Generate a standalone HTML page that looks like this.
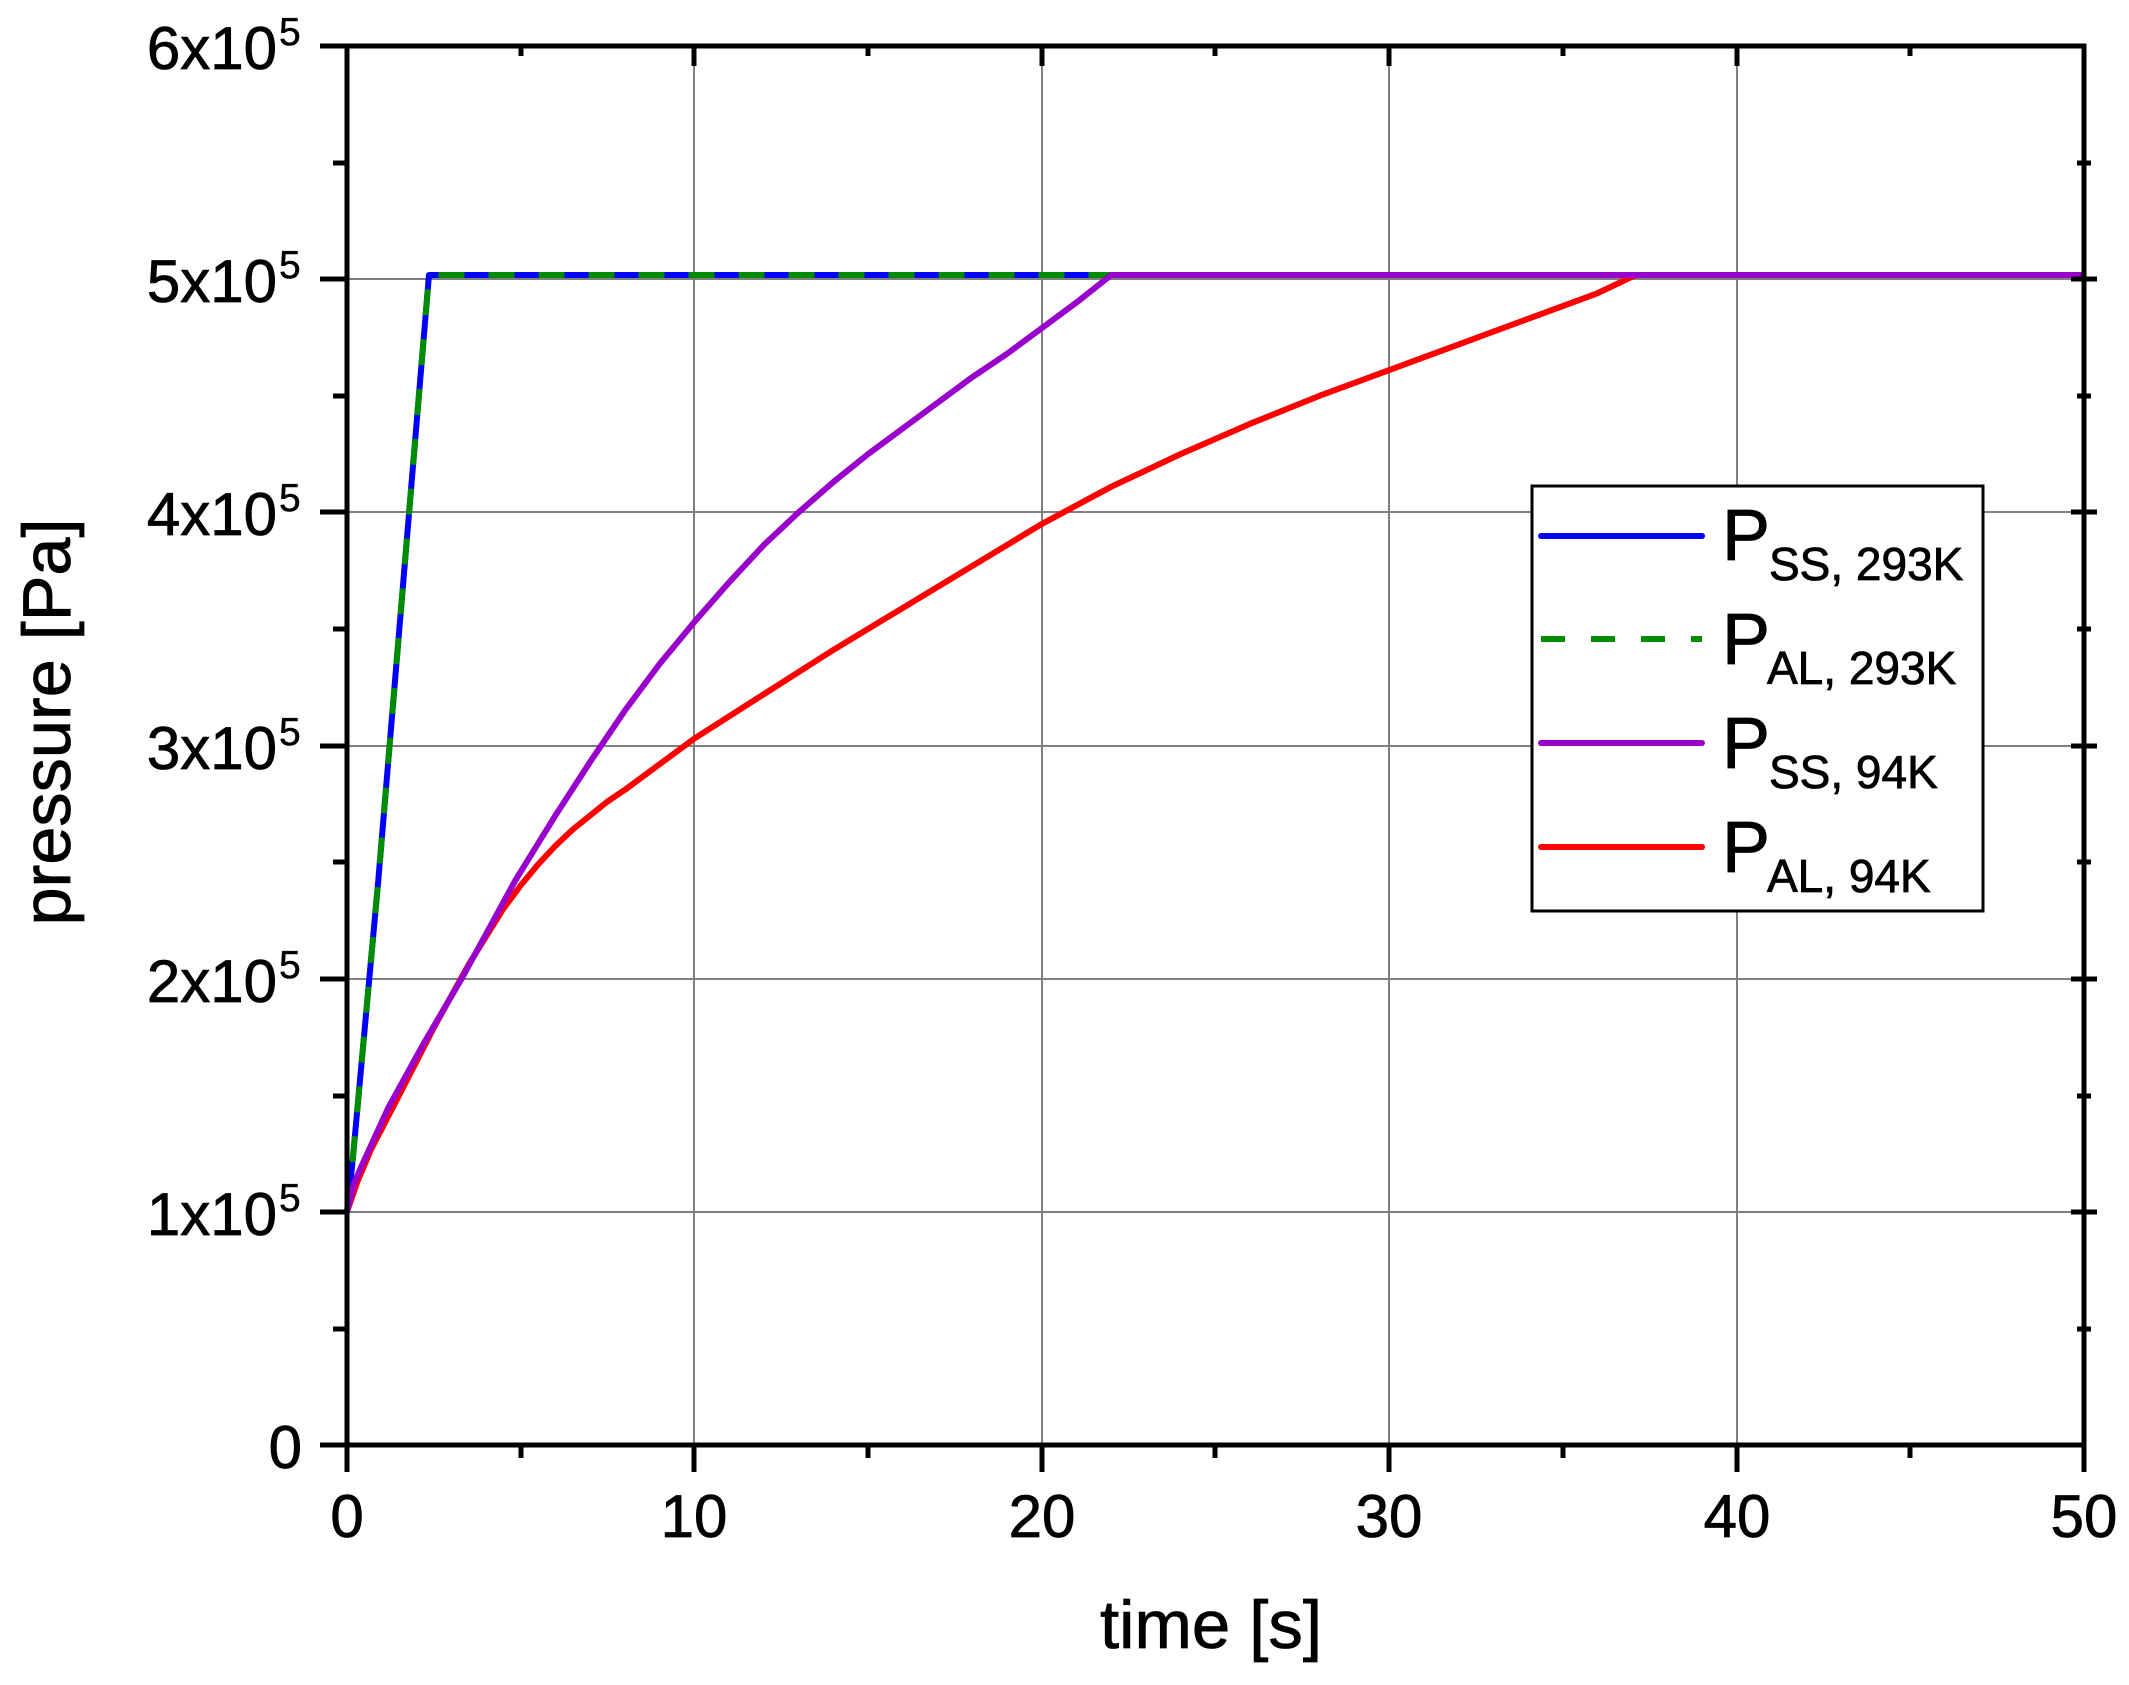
<!DOCTYPE html>
<html><head><meta charset="utf-8"><style>
html,body{margin:0;padding:0;background:#fff;}
svg{display:block;font-family:"Liberation Sans",Arial,sans-serif;}
</style></head><body>
<svg width="2129" height="1685" viewBox="0 0 2129 1685" xmlns="http://www.w3.org/2000/svg">
<rect width="2129" height="1685" fill="#fff"/>
<!-- grid -->
<g stroke="#808080" stroke-width="2">
<line x1="694" y1="46" x2="694" y2="1445"/>
<line x1="1042" y1="46" x2="1042" y2="1445"/>
<line x1="1389" y1="46" x2="1389" y2="1445"/>
<line x1="1737" y1="46" x2="1737" y2="1445"/>
<line x1="347" y1="1212" x2="2084" y2="1212"/>
<line x1="347" y1="979" x2="2084" y2="979"/>
<line x1="347" y1="746" x2="2084" y2="746"/>
<line x1="347" y1="512" x2="2084" y2="512"/>
<line x1="347" y1="279" x2="2084" y2="279"/>
</g>
<!-- series -->
<g transform="translate(347,1445) scale(34.74,-233.17)" fill="none" stroke-linejoin="round" stroke-linecap="butt">
<polyline vector-effect="non-scaling-stroke" stroke="#ff0000" stroke-width="6" points="0,1 0.3,1.13 0.7,1.27 1.5,1.5 2.5,1.79 3.5,2.06 4.5,2.3 5,2.4 5.5,2.49 6,2.57 6.5,2.64 7,2.70 7.5,2.76 8,2.81 9,2.92 10,3.03 12,3.22 14,3.41 16,3.59 18,3.77 20,3.95 22,4.11 24,4.25 26,4.38 28,4.50 30,4.61 32,4.72 34,4.83 36,4.94 37.1,5.018 50,5.018"/>
<polyline vector-effect="non-scaling-stroke" stroke="#0000ff" stroke-width="6" points="0,1 0.15,1.2 0.9,2.42 2.36,5.018 50,5.018"/>
<polyline vector-effect="non-scaling-stroke" stroke="#008c00" stroke-width="6" stroke-dasharray="26,24" points="0,1 0.15,1.2 0.9,2.42 2.36,5.018 22,5.018"/>
<polyline vector-effect="non-scaling-stroke" stroke="#9900cc" stroke-width="6" points="0,1 0.2,1.12 0.43,1.2 1.2,1.45 2.2,1.72 3.3,2.0 4.84,2.42 6,2.7 7,2.93 8,3.15 9,3.35 10,3.53 11,3.70 12,3.86 13,4.0 14,4.13 15,4.25 16,4.36 17,4.47 18,4.58 19,4.68 20,4.79 21,4.90 22,5.018 50,5.018"/>
</g>
<!-- axes -->
<rect x="347" y="46" width="1737" height="1399" stroke="#000" stroke-width="5" fill="none"/>
<g stroke="#000" stroke-width="5">
<line x1="320" y1="1445" x2="347" y2="1445"/><line x1="320" y1="1212" x2="347" y2="1212"/><line x1="320" y1="979" x2="347" y2="979"/><line x1="320" y1="746" x2="347" y2="746"/><line x1="320" y1="512" x2="347" y2="512"/><line x1="320" y1="279" x2="347" y2="279"/><line x1="320" y1="46" x2="347" y2="46"/>
<line x1="333" y1="1329" x2="347" y2="1329"/><line x1="333" y1="1096" x2="347" y2="1096"/><line x1="333" y1="862" x2="347" y2="862"/><line x1="333" y1="629" x2="347" y2="629"/><line x1="333" y1="396" x2="347" y2="396"/><line x1="333" y1="163" x2="347" y2="163"/>
<line x1="2071" y1="1212" x2="2097" y2="1212"/><line x1="2071" y1="979" x2="2097" y2="979"/><line x1="2071" y1="746" x2="2097" y2="746"/><line x1="2071" y1="512" x2="2097" y2="512"/><line x1="2071" y1="279" x2="2097" y2="279"/>
<line x1="2077" y1="1329" x2="2091" y2="1329"/><line x1="2077" y1="1096" x2="2091" y2="1096"/><line x1="2077" y1="862" x2="2091" y2="862"/><line x1="2077" y1="629" x2="2091" y2="629"/><line x1="2077" y1="396" x2="2091" y2="396"/><line x1="2077" y1="163" x2="2091" y2="163"/>
<line x1="347" y1="1445" x2="347" y2="1472"/><line x1="694" y1="1445" x2="694" y2="1472"/><line x1="1042" y1="1445" x2="1042" y2="1472"/><line x1="1389" y1="1445" x2="1389" y2="1472"/><line x1="1737" y1="1445" x2="1737" y2="1472"/><line x1="2084" y1="1445" x2="2084" y2="1472"/>
<line x1="521" y1="1445" x2="521" y2="1458"/><line x1="868" y1="1445" x2="868" y2="1458"/><line x1="1215" y1="1445" x2="1215" y2="1458"/><line x1="1563" y1="1445" x2="1563" y2="1458"/><line x1="1910" y1="1445" x2="1910" y2="1458"/>
<line x1="521" y1="46" x2="521" y2="56"/><line x1="868" y1="46" x2="868" y2="56"/><line x1="1215" y1="46" x2="1215" y2="56"/><line x1="1563" y1="46" x2="1563" y2="56"/><line x1="1910" y1="46" x2="1910" y2="56"/>
<line x1="694" y1="46" x2="694" y2="66"/><line x1="1042" y1="46" x2="1042" y2="66"/><line x1="1389" y1="46" x2="1389" y2="66"/><line x1="1737" y1="46" x2="1737" y2="66"/>
</g>
<!-- tick labels -->
<g font-size="60" fill="#000" text-anchor="middle" stroke="#000" stroke-width="0.8">
<text x="347" y="1537">0</text><text x="694" y="1537">10</text><text x="1042" y="1537">20</text><text x="1389" y="1537">30</text><text x="1737" y="1537">40</text><text x="2084" y="1537">50</text>
</g>
<g font-size="60" fill="#000" text-anchor="end" stroke="#000" stroke-width="0.8">
<text x="302" y="1468">0</text>
<text x="277" y="1235">1x10</text><text x="277" y="1002">2x10</text><text x="277" y="769">3x10</text><text x="277" y="535">4x10</text><text x="277" y="302">5x10</text><text x="277" y="69">6x10</text>
</g>
<g font-size="39" fill="#000" stroke="#000" stroke-width="0.5">
<text x="279" y="1211">5</text><text x="279" y="978">5</text><text x="279" y="745">5</text><text x="279" y="511">5</text><text x="279" y="278">5</text><text x="279" y="45">5</text>
</g>
<!-- axis titles -->
<g stroke="#000" stroke-width="0.8">
<text x="1211" y="1648" font-size="68" text-anchor="middle" textLength="222" lengthAdjust="spacingAndGlyphs">time [s]</text>
<text transform="translate(70,722) rotate(-90)" font-size="68" text-anchor="middle" textLength="407" lengthAdjust="spacingAndGlyphs">pressure [Pa]</text>
</g>
<!-- legend -->
<rect x="1532" y="486" width="451" height="425" fill="#fff" stroke="#000" stroke-width="3"/>
<g stroke-width="6" stroke-linecap="round">
<line x1="1541" y1="536" x2="1702" y2="536" stroke="#0000ff"/>
<line x1="1541" y1="639" x2="1702" y2="639" stroke="#008c00" stroke-dasharray="24,26" stroke-linecap="butt"/>
<line x1="1541" y1="743" x2="1702" y2="743" stroke="#9900cc"/>
<line x1="1541" y1="847" x2="1702" y2="847" stroke="#ff0000"/>
</g>
<g fill="#000" stroke="#000" stroke-width="0.8">
<text x="1722" y="560" font-size="72">P</text><text x="1769" y="580" font-size="46">SS, 293K</text>
<text x="1722" y="664" font-size="72">P</text><text x="1767" y="684" font-size="46">AL, 293K</text>
<text x="1722" y="768" font-size="72">P</text><text x="1769" y="788" font-size="46">SS, 94K</text>
<text x="1722" y="872" font-size="72">P</text><text x="1767" y="892" font-size="46">AL, 94K</text>
</g>
</svg>
</body></html>
